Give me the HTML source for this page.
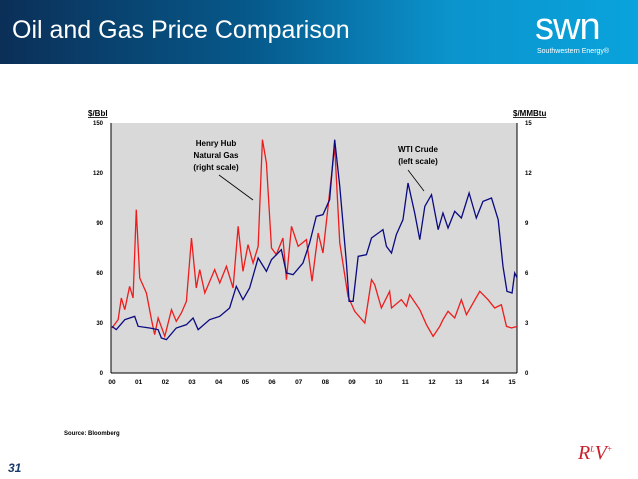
<!DOCTYPE html>
<html><head><meta charset="utf-8"><style>
body{margin:0;width:638px;height:479px;overflow:hidden;background:#fff;font-family:"Liberation Sans",Arial,sans-serif;position:relative}
.hdr{position:absolute;left:0;top:0;width:638px;height:64px;background:linear-gradient(90deg,#0b2f57 0%,#065a8c 40%,#0b93cc 70%,#0aa3dc 100%)}
.title{position:absolute;left:12px;top:16px;color:#fff;font-size:25px}
.logo{position:absolute;left:535px;top:6px;color:#fff;font-size:38px;letter-spacing:-1px}
.logosub{position:absolute;left:537px;top:48px;color:#fff;font-size:7px}
</style></head><body>
<div class="hdr"></div>
<div class="title">Oil and Gas Price Comparison</div>
<div class="logo">swn</div>
<div class="logosub">Southwestern Energy®</div>
<svg id="chart" width="638" height="479" style="position:absolute;left:0;top:0"></svg>
<div style="position:absolute;left:64px;top:431px;font-size:6px;font-weight:bold">Source: Bloomberg</div>
<div style="position:absolute;left:8px;top:461px;font-size:12px;font-weight:bold;font-style:italic;color:#1a3a6b">31</div>
<div style="position:absolute;left:578px;top:442px;font-size:20px;font-style:italic;color:#c8202a;font-family:'Liberation Serif',serif">R<sup style="font-size:8px">L</sup>V<sup style="font-size:8px">+</sup></div>
<script>
const yearLabels=["00","01","02","03","04","05","06","07","08","09","10","11","12","13","14","15"];
const leftTicks=[0,30,60,90,120,150];
const rightTicks=[0,3,6,9,12,15];
const wtiDates=[0,0.16,0.48,0.85,0.98,1.41,1.73,1.85,2.04,2.41,2.79,3.04,3.23,3.66,4.04,4.41,4.66,4.91,5.16,5.48,5.79,5.98,6.35,6.54,6.79,7.16,7.41,7.66,7.91,8.16,8.35,8.54,8.79,8.89,9.04,9.23,9.54,9.73,10.16,10.29,10.48,10.66,10.91,11.1,11.35,11.54,11.73,11.98,12.23,12.41,12.6,12.85,13.1,13.39,13.66,13.91,14.23,14.48,14.66,14.81,15.0,15.1,15.19];
const wtiValues=[28,26,32,34,28,27,26,21,20,27,29,33,26,32,34,39,52,44,51,69,61,68,74,60,59,66,78,94,95,104,140,112,66,43,43,70,71,81,86,76,72,83,92,114,96,80,100,107,86,96,87,97,93,108,93,103,105,92,64,49,48,60,57];
const gasDates=[0,0.23,0.35,0.48,0.66,0.79,0.91,1.04,1.29,1.48,1.6,1.73,1.98,2.23,2.41,2.6,2.79,2.98,3.16,3.29,3.48,3.85,4.04,4.29,4.54,4.73,4.91,5.1,5.29,5.48,5.64,5.79,5.98,6.16,6.41,6.54,6.73,6.98,7.29,7.5,7.73,7.91,8.35,8.54,8.85,9.1,9.48,9.73,9.85,10.1,10.41,10.48,10.85,11.04,11.16,11.54,11.79,12.04,12.29,12.41,12.6,12.85,13.1,13.29,13.79,14.1,14.35,14.6,14.79,14.98,15.19];
const gasValues=[2.7,3.2,4.5,3.8,5.2,4.5,9.8,5.7,4.8,3.2,2.3,3.3,2.2,3.8,3.1,3.6,4.3,8.1,5.1,6.2,4.8,6.2,5.4,6.4,5.1,8.8,6.1,7.7,6.6,7.6,14,12.6,7.5,7.1,8.1,5.6,8.8,7.6,8.0,5.5,8.4,7.2,13.6,7.8,4.6,3.7,3.0,5.6,5.3,3.9,4.9,3.9,4.4,4.0,4.7,3.8,2.9,2.2,2.8,3.2,3.7,3.3,4.4,3.5,4.9,4.4,3.9,4.1,2.8,2.7,2.8];
const X0=111,X1=517,Y0=373,Y1=123;
const xs=t=>112+26.67*t;
const yL=v=>Y0-(v/150)*(Y0-Y1);
const yR=v=>Y0-(v/15)*(Y0-Y1);
const svg=document.getElementById('chart');const NS='http://www.w3.org/2000/svg';
function mk(tag,a){const e=document.createElementNS(NS,tag);for(const k in a)e.setAttribute(k,a[k]);svg.appendChild(e);return e;}
const bg=mk('rect',{x:X0,y:Y1,width:X1-X0,height:Y0-Y1,fill:'#d9d9d9'});


const la=mk('line',{x1:X0,y1:Y1,x2:X0,y2:Y0,stroke:'#000','stroke-width':1});


const ra=mk('line',{x1:X1,y1:Y1,x2:X1,y2:Y0,stroke:'#000','stroke-width':1});


const xa=mk('line',{x1:X0,y1:Y0,x2:X1,y2:Y0,stroke:'#000','stroke-width':1});


leftTicks.forEach(v=>{const t=mk('text',{x:103,y:yL(v)+2,'text-anchor':'end','font-size':6,'font-weight':'bold'});t.textContent=v;

});
rightTicks.forEach(v=>{const t=mk('text',{x:525,y:yR(v)+2,'font-size':6,'font-weight':'bold'});t.textContent=v;

});
yearLabels.forEach((l,i)=>{const t=mk('text',{x:xs(i),y:384,'text-anchor':'middle','font-size':6.5,'font-weight':'bold'});t.textContent=l;

});
const lt=mk('text',{x:88,y:116,'font-size':8,'font-weight':'bold','text-decoration':'underline'});lt.textContent='$/Bbl';


const rt=mk('text',{x:513,y:116,'font-size':8,'font-weight':'bold','text-decoration':'underline'});rt.textContent='$/MMBtu';


const gp=mk('polyline',{points:gasDates.map((d,i)=>xs(d)+','+yR(gasValues[i])).join(' '),fill:'none',stroke:'#ee1c1c','stroke-width':1.3});


const wp=mk('polyline',{points:wtiDates.map((d,i)=>xs(d)+','+yL(wtiValues[i])).join(' '),fill:'none',stroke:'#0a0a80','stroke-width':1.3});


[['Henry Hub',216,146],['Natural Gas',216,158],['(right scale)',216,170]].forEach(a=>{const t=mk('text',{x:a[1],y:a[2],'text-anchor':'middle','font-size':8,'font-weight':'bold'});t.textContent=a[0];

});
[['WTI Crude',418,152],['(left scale)',418,164]].forEach(a=>{const t=mk('text',{x:a[1],y:a[2],'text-anchor':'middle','font-size':8,'font-weight':'bold'});t.textContent=a[0];

});
const l1=mk('line',{x1:219,y1:175,x2:253,y2:200,stroke:'#000','stroke-width':0.8});


const l2=mk('line',{x1:408,y1:170,x2:424,y2:191,stroke:'#000','stroke-width':0.8});


</script>
</body></html>
